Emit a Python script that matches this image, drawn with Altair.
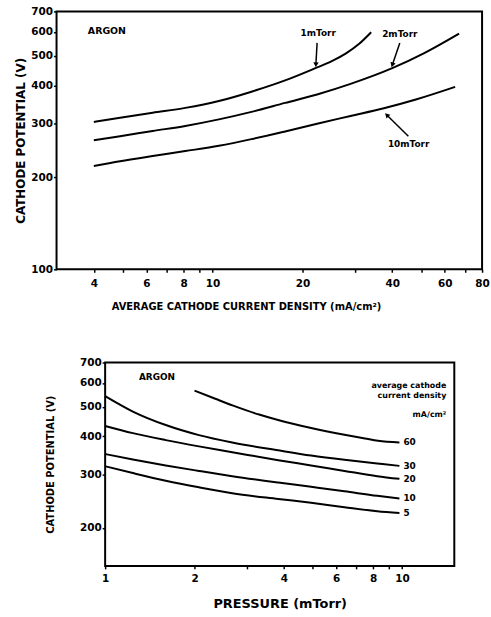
import altair as alt
import pandas as pd

# ---------------- top panel: potential vs average cathode current density ----------------
top_1_c = [4, 4.9, 6.3, 8.1, 10.5, 13.5, 17.5, 22.2, 25, 28, 31, 34]
top_1_v = [304, 314, 326, 338, 356, 382, 416, 457, 480, 510, 548, 598]
top_2_c = [4, 4.9, 6.3, 8.1, 10.5, 13.5, 17.5, 22.4, 29, 40, 51, 67]
top_2_v = [265, 273, 284, 295, 310, 328, 351, 374, 405, 456, 510, 592]
top_10_c = [4, 4.9, 6.3, 8.1, 10.5, 13.5, 17.5, 22.4, 29, 37.5, 48, 65]
top_10_v = [218, 226, 235, 244, 254, 267, 283, 300, 318, 337, 360, 396]

top_x_domain = [3, 80]
top_y_domain = [100, 700]
top_x_ticks = [4, 5, 6, 7, 8, 9, 10, 20, 30, 40, 50, 60, 70, 80]
top_x_labeled = [4, 6, 8, 10, 20, 40, 60, 80]
top_y_ticks = [100, 200, 300, 400, 500, 600, 700]

top_note_text = ["1mTorr", "2mTorr", "10mTorr"]
top_note_x = [22.6, 42.4, 45.4]
top_note_y = [595, 591, 257]
top_arrow_x = [22.4, 42.4, 45.3]
top_arrow_y = [552, 552, 273]
top_arrow_x2 = [22.2, 40.1, 38.5]
top_arrow_y2 = [471, 470, 319]
top_arrow_angle = [183, 199, 315]

# ---------------- bottom panel: potential vs pressure ----------------
bot_p = [1, 1.24, 1.6, 2.07, 2.68, 3.83, 4.94, 6.4, 8.25, 9.8]
bot_5_v = [319, 303, 286, 272, 260, 249, 242, 234, 227, 224]
bot_10_v = [350, 336, 321, 308, 296, 282, 273, 264, 255, 250]
bot_20_v = [433, 410, 389, 371, 355, 334, 321, 308, 296, 290]
bot_30_v = [543, 483, 436, 404, 382, 360, 346, 335, 326, 320]
bot_60_p = [2.0, 2.35, 2.7, 3.3, 3.85, 4.9, 6.4, 7.5, 8.3, 9.8]
bot_60_v = [566, 532, 505, 472, 452, 427, 405, 394, 387, 382]

bot_x_domain = [1, 15]
bot_y_domain = [150, 700]
bot_x_ticks = [1, 2, 3, 4, 5, 6, 7, 8, 9, 10]
bot_x_labeled = [1, 2, 4, 6, 8, 10]
bot_y_ticks = [200, 300, 400, 500, 600, 700]

bot_legend_text = ["average cathode", "current density", "mA/cm²"]
bot_legend_y = [588, 542, 469]

FONT = "DejaVu Sans"
TOP_W, TOP_H = 429, 260
BOT_W, BOT_H = 352, 205

# ---------------- tables ----------------
top_rows = []
for name, cs, vs in [("1mTorr", top_1_c, top_1_v), ("2mTorr", top_2_c, top_2_v),
                     ("10mTorr", top_10_c, top_10_v)]:
    for c, v in zip(cs, vs):
        top_rows.append({"x": c, "y": v, "series": name})
top_df = pd.DataFrame(top_rows)

bot_rows = []
for name, ps, vs in [("5", bot_p, bot_5_v), ("10", bot_p, bot_10_v), ("20", bot_p, bot_20_v),
                     ("30", bot_p, bot_30_v), ("60", bot_60_p, bot_60_v)]:
    for p, v in zip(ps, vs):
        bot_rows.append({"x": p, "y": v, "series": name})
bot_df = pd.DataFrame(bot_rows)

top_notes = pd.DataFrame({"x": top_note_x, "y": top_note_y, "label": top_note_text})
top_arrows = pd.DataFrame({"x": top_arrow_x, "y": top_arrow_y, "x2": top_arrow_x2,
                           "y2": top_arrow_y2, "angle": top_arrow_angle})
top_argon = pd.DataFrame({"x": [3.82], "y": [603], "label": ["ARGON"]})

bot_ends = bot_df.groupby("series", as_index=False).last()
bot_ends["label"] = bot_ends["series"]
bot_argon = pd.DataFrame({"x": [1.3], "y": [625], "label": ["ARGON"]})
bot_legend = pd.DataFrame({"x": [14.1] * 3, "y": bot_legend_y, "label": bot_legend_text})


def label_expr(vals):
    return "indexof([%s], datum.value) >= 0 ? format(datum.value, 'd') : ''" % ",".join(str(v) for v in vals)


def text_layer(df, xs, ys, size, align, dx=0):
    return alt.Chart(df).mark_text(font=FONT, fontWeight="bold", fontSize=size, align=align,
                                   baseline="middle", color="black", dx=dx).encode(
        x=alt.X("x:Q", scale=xs, axis=None), y=alt.Y("y:Q", scale=ys, axis=None), text="label:N")


def curves(df, xs, ys, xaxis, yaxis):
    return alt.Chart(df).mark_line(color="black", strokeWidth=2, interpolate="monotone").encode(
        x=alt.X("x:Q", scale=xs, axis=xaxis),
        y=alt.Y("y:Q", scale=ys, axis=yaxis),
        detail="series:N",
    )


# ---------------- top panel ----------------
tx = alt.Scale(type="log", domain=top_x_domain, nice=False)
ty = alt.Scale(type="log", domain=top_y_domain, nice=False)

top_xaxis = alt.Axis(orient="bottom", values=top_x_ticks, labelExpr=label_expr(top_x_labeled),
                     ticks=True, tickSize=3, labelPadding=6, minExtent=0,
                     title="AVERAGE CATHODE CURRENT DENSITY (mA/cm²)",
                     titleFontSize=10, titlePadding=13, titleX=191)
top_yaxis = alt.Axis(orient="left", values=top_y_ticks, format="d", ticks=True, tickSize=3,
                     labelPadding=1, minExtent=0, title="CATHODE POTENTIAL (V)",
                     titleFontSize=12, titlePadding=3)

top_rules = alt.Chart(top_arrows).mark_rule(color="black", strokeWidth=1.5).encode(
    x=alt.X("x:Q", scale=tx, axis=None), y=alt.Y("y:Q", scale=ty, axis=None),
    x2="x2:Q", y2="y2:Q")
top_heads = alt.Chart(top_arrows).mark_point(shape="triangle", filled=True, color="black",
                                             size=30, opacity=1).encode(
    x=alt.X("x2:Q", scale=tx, axis=None), y=alt.Y("y2:Q", scale=ty, axis=None),
    angle=alt.Angle("angle:Q", scale=None))

top = alt.layer(
    curves(top_df, tx, ty, top_xaxis, top_yaxis),
    top_rules, top_heads,
    text_layer(top_notes, tx, ty, 9, "center"),
    text_layer(top_argon, tx, ty, 9.5, "left"),
).resolve_axis(x="independent", y="independent").properties(width=TOP_W, height=TOP_H)

# ---------------- bottom panel ----------------
bx = alt.Scale(type="log", domain=bot_x_domain, nice=False)
by = alt.Scale(type="log", domain=bot_y_domain, nice=False)

bot_xaxis = alt.Axis(orient="bottom", values=bot_x_ticks, labelExpr=label_expr(bot_x_labeled),
                     ticks=True, tickSize=3, labelPadding=5, minExtent=0,
                     title="PRESSURE (mTorr)", titleFontSize=13, titlePadding=13)
bot_yaxis = alt.Axis(orient="left", values=bot_y_ticks, format="d", ticks=True, tickSize=3,
                     labelPadding=1, minExtent=0, title="CATHODE POTENTIAL (V)",
                     titleFontSize=10, titlePadding=24)

bottom = alt.layer(
    curves(bot_df, bx, by, bot_xaxis, bot_yaxis),
    text_layer(bot_ends, bx, by, 9, "left", dx=4),
    text_layer(bot_argon, bx, by, 9, "left"),
    text_layer(bot_legend, bx, by, 8, "right"),
).resolve_axis(x="independent", y="independent").properties(width=BOT_W, height=BOT_H)


def spacer(w):
    return alt.Chart(pd.DataFrame({"s": [0]})).mark_point(opacity=0).properties(
        width=w, height=10, view=alt.ViewBackground(stroke="transparent"))


top_row = alt.hconcat(spacer(1), top, spacing=0)
bottom_row = alt.hconcat(spacer(34), bottom, spacing=0)

chart = alt.vconcat(top_row, bottom_row, spacing=44).properties(
    padding={"left": 7, "top": 3, "right": 0, "bottom": 0}, background="white"
).configure_view(stroke="black", strokeWidth=2).configure_axis(
    labelFont=FONT, labelFontWeight="bold", labelFontSize=10.5, labelColor="black",
    titleFont=FONT, titleFontWeight="bold", titleColor="black",
    tickColor="black", tickWidth=1.5,
    grid=False, domain=False, labelOverlap=False, labelFlush=False,
)

chart.save("out.html", embed_options={"renderer": "svg", "actions": False})
